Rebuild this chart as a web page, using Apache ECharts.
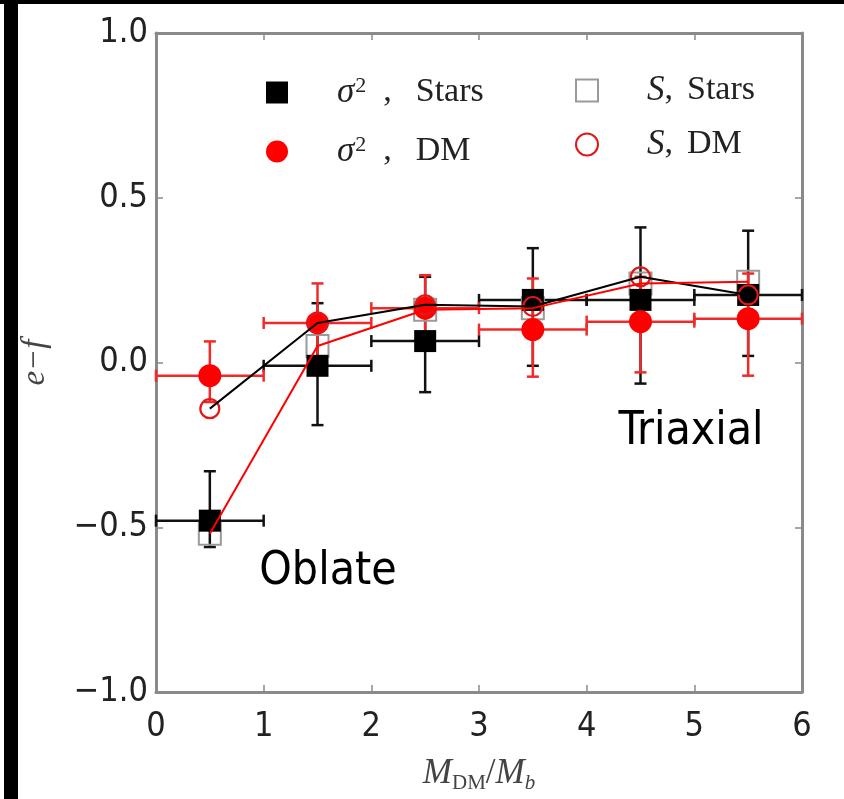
<!DOCTYPE html>
<html>
<head>
<meta charset="utf-8">
<script src="https://cdn.jsdelivr.net/npm/echarts@6/dist/echarts.min.js"></script>
<style>
  html, body { margin: 0; padding: 0; background: #fff; }
  #chart { width: 844px; height: 799px; }
</style>
</head>
<body>
<div id="chart"></div>
<script>
// Mass-ratio bins (bin centres and edges)
const binCentre = [0.5, 1.5, 2.5, 3.5, 4.5, 5.5];
const binLow    = [0, 1, 2, 3, 4, 5];
const binHigh   = [1, 2, 3, 4, 5, 6];

// sigma^2 estimator, stars
const sigStars     = [-0.48, -0.01, 0.065, 0.19, 0.19, 0.205];
const sigStarsLow  = [-0.56, -0.19, -0.09, -0.01, -0.064, 0.02];
const sigStarsHigh = [-0.33, 0.18, 0.26, 0.347, 0.41, 0.40];

// sigma^2 estimator, dark matter
const sigDM     = [-0.04, 0.12, 0.165, 0.10, 0.124, 0.133];
const sigDMLow  = [-0.12, 0.0, 0.07, -0.043, -0.03, -0.04];
const sigDMHigh = [0.064, 0.24, 0.265, 0.255, 0.26, 0.27];

// S estimator, stars and dark matter
const sStars = [-0.52, 0.05, 0.16, 0.165, 0.24, 0.245];
const sDM    = [-0.14, 0.12, 0.175, 0.17, 0.26, 0.205];

// Axis ticks
const xTicks = [0, 1, 2, 3, 4, 5, 6];
const yTicks = [-1.0, -0.5, 0.0, 0.5, 1.0];

const RED = '#ff0000';
const SANS = '"DejaVu Sans Condensed", "DejaVu Sans", sans-serif';
const SERIF = '"Liberation Serif", "DejaVu Serif", serif';

const pts = (ys) => binCentre.map((x, i) => [x, ys[i]]);
const errRows = (ys, lo, hi) => binCentre.map((x, i) => [x, ys[i], lo[i], hi[i], binLow[i], binHigh[i]]);

function errorBars(color) {
  return function (params, api) {
    const x = api.value(0), y = api.value(1);
    const lo = api.coord([x, api.value(2)]);
    const hi = api.coord([x, api.value(3)]);
    const xl = api.coord([api.value(4), y]);
    const xh = api.coord([api.value(5), y]);
    const c = 6;
    const style = { stroke: color, lineWidth: 2.5 };
    const seg = (x1, y1, x2, y2) => ({ type: 'line', shape: { x1, y1, x2, y2 }, style });
    return {
      type: 'group',
      children: [
        seg(lo[0], lo[1], hi[0], hi[1]),
        seg(lo[0] - c, lo[1], lo[0] + c, lo[1]),
        seg(hi[0] - c, hi[1], hi[0] + c, hi[1]),
        seg(xl[0], xl[1], xh[0], xh[1]),
        seg(xl[0], xl[1] - c, xl[0], xl[1] + c),
        seg(xh[0], xh[1] - c, xh[0], xh[1] + c)
      ]
    };
  };
}

const legendRich = {
  sp: { width: 44 },
  gap: { width: 24 },
  gap2: { width: 14 },
  g: { fontFamily: SERIF, fontStyle: 'italic', fontSize: 35, color: '#222', lineHeight: 34 },
  sup: { fontFamily: SERIF, fontSize: 22, color: '#222', verticalAlign: 'top', lineHeight: 34, padding: [0, 0, 10, 1] },
  t: { fontFamily: SERIF, fontSize: 34, color: '#222', lineHeight: 34 }
};
const legendText = {
  'σ² Stars': '{sp|}{g|σ}{sup|2}{t|  ,}{gap|}{t|Stars}',
  'σ² DM': '{sp|}{g|σ}{sup|2}{t|  ,}{gap|}{t|DM}',
  'S Stars': '{sp|}{g|S}{t|,}{gap2|}{t|Stars}',
  'S DM': '{sp|}{g|S}{t|,}{gap2|}{t|DM}'
};

const axisLineStyle = { color: '#8a8a8a', width: 3 };
const tickStyle = { show: true, inside: true, length: 7, lineStyle: { color: '#8a8a8a', width: 1.5 } };

const chart = echarts.init(document.getElementById('chart'), null, { renderer: 'canvas' });

chart.setOption({
  backgroundColor: '#ffffff',
  animation: false,
  grid: { left: 156, right: 42, top: 33, bottom: 95 },
  graphic: [
    { type: 'rect', shape: { x: 0, y: 0, width: 844, height: 4 }, style: { fill: '#000' }, z: 100 },
    { type: 'rect', shape: { x: 4, y: 0, width: 14, height: 799 }, style: { fill: '#000' }, z: 100 },
    { type: 'text', x: 328, y: 572, style: { text: 'Oblate', font: '46px ' + SANS, fill: '#000', textAlign: 'center', textVerticalAlign: 'middle' }, z: 50 },
    { type: 'text', x: 691, y: 432, style: { text: 'Triaxial', font: '46px ' + SANS, fill: '#000', textAlign: 'center', textVerticalAlign: 'middle' }, z: 50 }
  ],
  legend: [
    {
      data: ['σ² Stars', 'σ² DM'],
      orient: 'vertical', left: 266, top: 75, padding: 0,
      itemWidth: 22, itemHeight: 22, itemGap: 24,
      selectedMode: false,
      formatter: (n) => legendText[n],
      textStyle: { rich: legendRich }
    },
    {
      data: ['S Stars', 'S DM'],
      orient: 'vertical', left: 575, top: 73, padding: 0,
      itemWidth: 22, itemHeight: 22, itemGap: 19,
      selectedMode: false,
      formatter: (n) => legendText[n],
      textStyle: { rich: legendRich }
    }
  ],
  xAxis: [
    {
      type: 'value', min: xTicks[0], max: xTicks[xTicks.length - 1], interval: 1,
      axisLine: { show: true, onZero: false, lineStyle: axisLineStyle },
      axisTick: tickStyle,
      splitLine: { show: false },
      axisLabel: { fontFamily: SANS, fontSize: 34, color: '#222', margin: 18 },
      name: '{i|M}{s|DM}{u|/}{i|M}{sb|b}',
      nameLocation: 'middle', nameGap: 62,
      nameTextStyle: {
        rich: {
          i: { fontFamily: SERIF, fontStyle: 'italic', fontSize: 35, color: '#444', lineHeight: 40 },
          u: { fontFamily: SERIF, fontSize: 35, color: '#444', lineHeight: 40 },
          s: { fontFamily: SERIF, fontSize: 21, color: '#444', verticalAlign: 'bottom', lineHeight: 32 },
          sb: { fontFamily: SERIF, fontStyle: 'italic', fontSize: 21, color: '#444', verticalAlign: 'bottom', lineHeight: 32 }
        }
      }
    },
    {
      type: 'value', position: 'top', min: 0, max: 6, interval: 1,
      axisLine: { show: true, onZero: false, lineStyle: axisLineStyle },
      axisTick: tickStyle, axisLabel: { show: false }, splitLine: { show: false }
    }
  ],
  yAxis: [
    {
      type: 'value', min: yTicks[0], max: yTicks[yTicks.length - 1], interval: 0.5,
      axisLine: { show: true, onZero: false, lineStyle: axisLineStyle },
      axisTick: tickStyle,
      splitLine: { show: false },
      axisLabel: {
        fontFamily: SANS, fontSize: 34, color: '#222', margin: 8,
        formatter: (v) => (v < 0 ? '\u2212' : '') + Math.abs(v).toFixed(1)
      },
      name: 'e\u2212f', nameLocation: 'middle', nameGap: 104, nameRotate: 90,
      nameTextStyle: { fontFamily: SERIF, fontStyle: 'italic', fontSize: 33, color: '#444' }
    },
    {
      type: 'value', position: 'right', min: -1, max: 1, interval: 0.5,
      axisLine: { show: true, onZero: false, lineStyle: axisLineStyle },
      axisTick: tickStyle, axisLabel: { show: false }, splitLine: { show: false }
    }
  ],
  series: [
    {
      name: 'σ² Stars err', type: 'custom', renderItem: errorBars('#111'),
      data: errRows(sigStars, sigStarsLow, sigStarsHigh), encode: { x: 0, y: 1 }, z: 2, silent: true
    },
    {
      name: 'σ² DM err', type: 'custom', renderItem: errorBars('#f02a2a'),
      data: errRows(sigDM, sigDMLow, sigDMHigh), encode: { x: 0, y: 1 }, z: 2, silent: true
    },
    {
      name: 'S Stars', type: 'scatter', symbol: 'rect', symbolSize: 22,
      itemStyle: { color: 'rgba(255,255,255,0)', borderColor: '#9a9a9a', borderWidth: 2, opacity: 1 },
      data: pts(sStars), z: 3
    },
    {
      name: 'σ² Stars', type: 'scatter', symbol: 'rect', symbolSize: 22,
      itemStyle: { color: '#000', opacity: 1 }, data: pts(sigStars), z: 4
    },
    {
      name: 'σ² DM', type: 'scatter', symbol: 'circle', symbolSize: 23,
      itemStyle: { color: RED, opacity: 1 }, data: pts(sigDM), z: 4
    },
    {
      name: 'S DM', type: 'scatter', symbol: 'circle', symbolSize: 19,
      itemStyle: { color: 'rgba(255,255,255,0)', borderColor: '#e01818', borderWidth: 2.2, opacity: 1 },
      data: pts(sDM), z: 5
    },
    {
      name: 'S DM trend', type: 'line', data: pts(sDM), showSymbol: false,
      lineStyle: { color: '#000', width: 2 }, z: 6, silent: true
    },
    {
      name: 'S Stars trend', type: 'line', data: pts(sStars), showSymbol: false,
      lineStyle: { color: RED, width: 2 }, z: 6, silent: true
    }
  ]
});
</script>
</body>
</html>
